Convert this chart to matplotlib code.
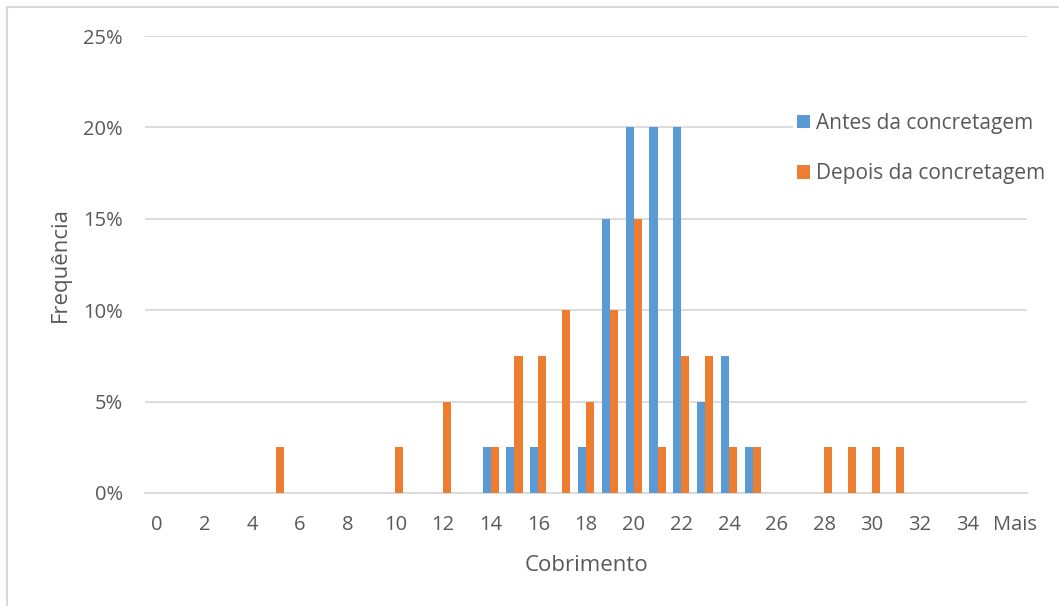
import numpy as np
import matplotlib.pyplot as plt
from matplotlib.ticker import FuncFormatter
from matplotlib.lines import Line2D

plt.rcParams['font.family'] = ['Open Sans', 'DejaVu Sans']

# categories: 0..35 and "Mais"
categories = [str(i) for i in range(36)] + ["Mais"]

# frequency (%) per category
antes = {14: 2.5, 15: 2.5, 16: 2.5, 18: 2.5, 19: 15, 20: 20, 21: 20,
         22: 20, 23: 5, 24: 7.5, 25: 2.5}
depois = {5: 2.5, 10: 2.5, 12: 5, 14: 2.5, 15: 7.5, 16: 7.5, 17: 10,
          18: 5, 19: 10, 20: 15, 21: 2.5, 22: 7.5, 23: 7.5, 24: 2.5,
          25: 2.5, 28: 2.5, 29: 2.5, 30: 2.5, 31: 2.5}

antes_vals = np.array([antes.get(i, 0) for i in range(len(categories))]) / 100
depois_vals = np.array([depois.get(i, 0) for i in range(len(categories))]) / 100

blue = "#5B9BD5"
orange = "#ED7D31"
grey_txt = "#595959"
grid_c = "#D9D9D9"

W, H = 1059, 606
fig = plt.figure(figsize=(W / 100, H / 100), dpi=100)
ax = fig.add_axes([145 / W, (H - 493) / H, 882 / W, (493 - 36) / H])

x = np.arange(len(categories))
bw = 0.34
ax.bar(x - bw / 2, antes_vals, bw, color=blue, label="Antes da concretagem", zorder=3)
ax.bar(x + bw / 2, depois_vals, bw, color=orange, label="Depois da concretagem", zorder=3)

ax.set_xlim(-0.5, len(categories) - 0.5)
ax.set_ylim(0, 0.25)
ax.set_yticks(np.arange(0, 0.2501, 0.05))
ax.yaxis.set_major_formatter(FuncFormatter(lambda v, p: f"{v * 100:.0f}%"))
ax.set_xticks(x[::2])
ax.set_xticklabels(categories[::2])

ax.grid(axis='y', color=grid_c, linewidth=1.3, zorder=0)
for s in ['top', 'right', 'left']:
    ax.spines[s].set_visible(False)
ax.spines['bottom'].set_color(grid_c)
ax.spines['bottom'].set_linewidth(1.3)
ax.tick_params(length=0, colors=grey_txt, labelsize=14.5)
ax.tick_params(axis='x', pad=16)
ax.tick_params(axis='y', pad=16)

ax.set_xlabel("Cobrimento", color=grey_txt, fontsize=16, labelpad=14)
ax.set_ylabel("Frequência", color=grey_txt, fontsize=16, labelpad=9)

leg = ax.legend(loc='upper left', bbox_to_anchor=(648 / 882, (493 - 109) / 457),
                frameon=True, facecolor='white', edgecolor='none', framealpha=1,
                fontsize=15, handlelength=0.6, handleheight=0.6, handletextpad=0.3,
                labelspacing=1.4, borderaxespad=0, borderpad=0.2)
for t in leg.get_texts():
    t.set_color(grey_txt)

# chart border (top and left)
fig.add_artist(Line2D([7 / W, 1], [1 - 7 / H, 1 - 7 / H], color=grid_c, linewidth=1.5))
fig.add_artist(Line2D([7 / W, 7 / W], [0, 1 - 7 / H], color=grid_c, linewidth=1.5))

fig.savefig("out.png", dpi=100)
